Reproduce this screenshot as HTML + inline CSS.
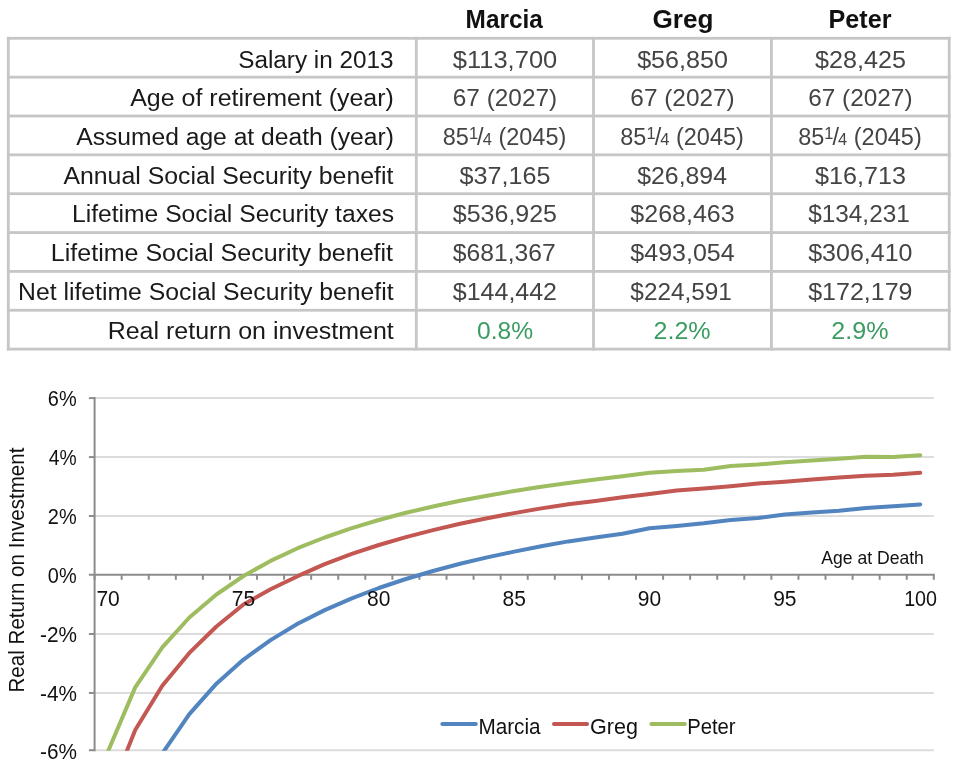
<!DOCTYPE html>
<html><head><meta charset="utf-8"><style>
html,body{margin:0;padding:0;background:#fff;}
body{width:960px;height:769px;position:relative;overflow:hidden;font-family:"Liberation Sans", sans-serif;}
</style></head><body>
<svg width="960" height="769" font-family='"Liberation Sans", sans-serif' style="position:absolute;left:0;top:0;will-change:transform">
<rect x="6.90" y="36.90" width="943.70" height="2.8" fill="#c6c6c6"/>
<rect x="6.90" y="75.75" width="943.70" height="2.8" fill="#c6c6c6"/>
<rect x="6.90" y="114.60" width="943.70" height="2.8" fill="#c6c6c6"/>
<rect x="6.90" y="153.45" width="943.70" height="2.8" fill="#c6c6c6"/>
<rect x="6.90" y="192.30" width="943.70" height="2.8" fill="#c6c6c6"/>
<rect x="6.90" y="231.15" width="943.70" height="2.8" fill="#c6c6c6"/>
<rect x="6.90" y="270.00" width="943.70" height="2.8" fill="#c6c6c6"/>
<rect x="6.90" y="308.85" width="943.70" height="2.8" fill="#c6c6c6"/>
<rect x="6.90" y="347.70" width="943.70" height="2.8" fill="#c6c6c6"/>
<rect x="6.90" y="36.90" width="2.8" height="313.60" fill="#c6c6c6"/>
<rect x="414.90" y="36.90" width="2.8" height="313.60" fill="#c6c6c6"/>
<rect x="592.10" y="36.90" width="2.8" height="313.60" fill="#c6c6c6"/>
<rect x="770.00" y="36.90" width="2.8" height="313.60" fill="#c6c6c6"/>
<rect x="947.80" y="36.90" width="2.8" height="313.60" fill="#c6c6c6"/>
<line x1="94.6" y1="398.1" x2="933.8" y2="398.1" stroke="#dcdcdc" stroke-width="2"/>
<line x1="88.9" y1="398.1" x2="94.6" y2="398.1" stroke="#8c8c8c" stroke-width="2"/>
<line x1="94.6" y1="457.1" x2="933.8" y2="457.1" stroke="#dcdcdc" stroke-width="2"/>
<line x1="88.9" y1="457.1" x2="94.6" y2="457.1" stroke="#8c8c8c" stroke-width="2"/>
<line x1="94.6" y1="516.0" x2="933.8" y2="516.0" stroke="#dcdcdc" stroke-width="2"/>
<line x1="88.9" y1="516.0" x2="94.6" y2="516.0" stroke="#8c8c8c" stroke-width="2"/>
<line x1="94.6" y1="634.0" x2="933.8" y2="634.0" stroke="#dcdcdc" stroke-width="2"/>
<line x1="88.9" y1="634.0" x2="94.6" y2="634.0" stroke="#8c8c8c" stroke-width="2"/>
<line x1="94.6" y1="692.9" x2="933.8" y2="692.9" stroke="#dcdcdc" stroke-width="2"/>
<line x1="88.9" y1="692.9" x2="94.6" y2="692.9" stroke="#8c8c8c" stroke-width="2"/>
<line x1="94.6" y1="750.2" x2="933.8" y2="750.2" stroke="#dcdcdc" stroke-width="2"/>
<line x1="88.9" y1="750.2" x2="94.6" y2="750.2" stroke="#8c8c8c" stroke-width="2"/>
<line x1="94.6" y1="397.1" x2="94.6" y2="751.2" stroke="#8c8c8c" stroke-width="2"/>
<line x1="88.9" y1="574.8" x2="934.8" y2="574.8" stroke="#8c8c8c" stroke-width="2"/>
<line x1="94.60" y1="574.8" x2="94.60" y2="579.8" stroke="#8c8c8c" stroke-width="2"/>
<line x1="121.67" y1="574.8" x2="121.67" y2="579.8" stroke="#8c8c8c" stroke-width="2"/>
<line x1="148.74" y1="574.8" x2="148.74" y2="579.8" stroke="#8c8c8c" stroke-width="2"/>
<line x1="175.81" y1="574.8" x2="175.81" y2="579.8" stroke="#8c8c8c" stroke-width="2"/>
<line x1="202.88" y1="574.8" x2="202.88" y2="579.8" stroke="#8c8c8c" stroke-width="2"/>
<line x1="229.95" y1="574.8" x2="229.95" y2="579.8" stroke="#8c8c8c" stroke-width="2"/>
<line x1="257.03" y1="574.8" x2="257.03" y2="579.8" stroke="#8c8c8c" stroke-width="2"/>
<line x1="284.10" y1="574.8" x2="284.10" y2="579.8" stroke="#8c8c8c" stroke-width="2"/>
<line x1="311.17" y1="574.8" x2="311.17" y2="579.8" stroke="#8c8c8c" stroke-width="2"/>
<line x1="338.24" y1="574.8" x2="338.24" y2="579.8" stroke="#8c8c8c" stroke-width="2"/>
<line x1="365.31" y1="574.8" x2="365.31" y2="579.8" stroke="#8c8c8c" stroke-width="2"/>
<line x1="392.38" y1="574.8" x2="392.38" y2="579.8" stroke="#8c8c8c" stroke-width="2"/>
<line x1="419.45" y1="574.8" x2="419.45" y2="579.8" stroke="#8c8c8c" stroke-width="2"/>
<line x1="446.52" y1="574.8" x2="446.52" y2="579.8" stroke="#8c8c8c" stroke-width="2"/>
<line x1="473.59" y1="574.8" x2="473.59" y2="579.8" stroke="#8c8c8c" stroke-width="2"/>
<line x1="500.66" y1="574.8" x2="500.66" y2="579.8" stroke="#8c8c8c" stroke-width="2"/>
<line x1="527.74" y1="574.8" x2="527.74" y2="579.8" stroke="#8c8c8c" stroke-width="2"/>
<line x1="554.81" y1="574.8" x2="554.81" y2="579.8" stroke="#8c8c8c" stroke-width="2"/>
<line x1="581.88" y1="574.8" x2="581.88" y2="579.8" stroke="#8c8c8c" stroke-width="2"/>
<line x1="608.95" y1="574.8" x2="608.95" y2="579.8" stroke="#8c8c8c" stroke-width="2"/>
<line x1="636.02" y1="574.8" x2="636.02" y2="579.8" stroke="#8c8c8c" stroke-width="2"/>
<line x1="663.09" y1="574.8" x2="663.09" y2="579.8" stroke="#8c8c8c" stroke-width="2"/>
<line x1="690.16" y1="574.8" x2="690.16" y2="579.8" stroke="#8c8c8c" stroke-width="2"/>
<line x1="717.23" y1="574.8" x2="717.23" y2="579.8" stroke="#8c8c8c" stroke-width="2"/>
<line x1="744.30" y1="574.8" x2="744.30" y2="579.8" stroke="#8c8c8c" stroke-width="2"/>
<line x1="771.37" y1="574.8" x2="771.37" y2="579.8" stroke="#8c8c8c" stroke-width="2"/>
<line x1="798.45" y1="574.8" x2="798.45" y2="579.8" stroke="#8c8c8c" stroke-width="2"/>
<line x1="825.52" y1="574.8" x2="825.52" y2="579.8" stroke="#8c8c8c" stroke-width="2"/>
<line x1="852.59" y1="574.8" x2="852.59" y2="579.8" stroke="#8c8c8c" stroke-width="2"/>
<line x1="879.66" y1="574.8" x2="879.66" y2="579.8" stroke="#8c8c8c" stroke-width="2"/>
<line x1="906.73" y1="574.8" x2="906.73" y2="579.8" stroke="#8c8c8c" stroke-width="2"/>
<line x1="933.80" y1="574.8" x2="933.80" y2="579.8" stroke="#8c8c8c" stroke-width="2"/>
<defs><clipPath id="pa"><rect x="94.6" y="380" width="849.1999999999999" height="370.70000000000005"/></clipPath></defs>
<g clip-path="url(#pa)" fill="none" stroke-width="4" stroke-linejoin="round" stroke-linecap="round">
<polyline points="108.14,900.00 135.21,820.00 162.28,753.50 189.35,714.20 216.42,683.70 243.49,659.60 270.56,640.10 297.63,623.80 324.70,610.10 351.77,598.30 378.85,588.00 405.92,579.00 432.99,571.00 460.06,563.80 487.13,557.40 514.20,551.60 541.27,546.20 568.34,541.40 595.41,537.40 622.48,533.80 649.55,528.20 676.63,525.90 703.70,523.30 730.77,520.00 757.84,518.00 784.91,514.50 811.98,512.50 839.05,510.80 866.12,508.00 893.19,506.30 920.26,504.50" stroke="#5285c0"/>
<polyline points="108.14,798.00 135.21,730.00 162.28,685.80 189.35,652.90 216.42,626.50 243.49,604.50 270.56,589.20 297.63,576.20 324.70,564.20 351.77,553.90 378.85,545.00 405.92,537.10 432.99,530.10 460.06,523.80 487.13,518.20 514.20,513.10 541.27,508.40 568.34,504.30 595.41,500.90 622.48,497.20 649.55,493.90 676.63,490.60 703.70,488.50 730.77,486.30 757.84,483.50 784.91,481.70 811.98,479.50 839.05,477.50 866.12,475.80 893.19,474.70 920.26,472.80" stroke="#c35752"/>
<polyline points="108.14,751.00 135.21,687.40 162.28,647.30 189.35,617.50 216.42,594.50 243.49,576.00 270.56,560.90 297.63,548.20 324.70,537.50 351.77,528.10 378.85,520.00 405.92,512.80 432.99,506.50 460.06,500.80 487.13,495.70 514.20,491.00 541.27,486.80 568.34,482.90 595.41,479.50 622.48,476.30 649.55,472.80 676.63,471.10 703.70,469.70 730.77,466.00 757.84,464.50 784.91,462.20 811.98,460.50 839.05,458.70 866.12,456.70 893.19,457.00 920.26,455.30" stroke="#9ebd60"/>
</g>
<line x1="442.3" y1="723.9" x2="475.8" y2="723.9" stroke="#5285c0" stroke-width="4" stroke-linecap="round"/>
<line x1="554.0" y1="723.9" x2="587.0" y2="723.9" stroke="#c35752" stroke-width="4" stroke-linecap="round"/>
<line x1="651.4" y1="723.9" x2="684.9" y2="723.9" stroke="#9ebd60" stroke-width="4" stroke-linecap="round"/>
<text x="0" y="0" font-size="25.58" font-weight="bold" fill="#111" transform="matrix(0.9532 0 0 1 465.59 28.30)">Marcia</text>
<text x="0" y="0" font-size="25.58" font-weight="bold" fill="#111" transform="matrix(1.0228 0 0 1 652.48 28.30)">Greg</text>
<text x="0" y="0" font-size="25.58" font-weight="bold" fill="#111" transform="matrix(0.9839 0 0 1 828.53 28.30)">Peter</text>
<text x="0" y="0" font-size="24.42" font-weight="normal" fill="#1a1a1a" transform="matrix(0.9961 0 0 1 238.20 67.65)">Salary in 2013</text>
<text x="0" y="0" font-size="24.71" font-weight="normal" fill="#444444" transform="matrix(1.0323 0 0 1 452.77 67.65)">$113,700</text>
<text x="0" y="0" font-size="24.71" font-weight="normal" fill="#444444" transform="matrix(1.0184 0 0 1 637.13 67.65)">$56,850</text>
<text x="0" y="0" font-size="24.71" font-weight="normal" fill="#444444" transform="matrix(1.0184 0 0 1 814.98 67.65)">$28,425</text>
<text x="0" y="0" font-size="24.42" font-weight="normal" fill="#1a1a1a" transform="matrix(1.0234 0 0 1 130.20 106.36)">Age of retirement (year)</text>
<text x="0" y="0" font-size="24.71" font-weight="normal" fill="#444444" transform="matrix(0.9864 0 0 1 452.81 106.36)">67 (2027)</text>
<text x="0" y="0" font-size="24.71" font-weight="normal" fill="#444444" transform="matrix(0.9864 0 0 1 630.36 106.36)">67 (2027)</text>
<text x="0" y="0" font-size="24.71" font-weight="normal" fill="#444444" transform="matrix(0.9864 0 0 1 808.21 106.36)">67 (2027)</text>
<text x="0" y="0" font-size="24.42" font-weight="normal" fill="#1a1a1a" transform="matrix(1.0096 0 0 1 76.20 145.06)">Assumed age at death (year)</text>
<text x="0" y="0" font-size="24.71" font-weight="normal" fill="#444444" transform="matrix(0.9516 0 0 1 442.75 145.06)">85<tspan font-size="70%" dy="-5.8">1</tspan><tspan dy="5.8" dx="-1.0">/</tspan><tspan font-size="70%" dx="-1.0">4</tspan> (2045)</text>
<text x="0" y="0" font-size="24.71" font-weight="normal" fill="#444444" transform="matrix(0.9516 0 0 1 620.30 145.06)">85<tspan font-size="70%" dy="-5.8">1</tspan><tspan dy="5.8" dx="-1.0">/</tspan><tspan font-size="70%" dx="-1.0">4</tspan> (2045)</text>
<text x="0" y="0" font-size="24.71" font-weight="normal" fill="#444444" transform="matrix(0.9516 0 0 1 798.15 145.06)">85<tspan font-size="70%" dy="-5.8">1</tspan><tspan dy="5.8" dx="-1.0">/</tspan><tspan font-size="70%" dx="-1.0">4</tspan> (2045)</text>
<text x="0" y="0" font-size="24.42" font-weight="normal" fill="#1a1a1a" transform="matrix(1.0173 0 0 1 63.40 183.77)">Annual Social Security benefit</text>
<text x="0" y="0" font-size="24.71" font-weight="normal" fill="#444444" transform="matrix(1.0184 0 0 1 459.58 183.77)">$37,165</text>
<text x="0" y="0" font-size="24.71" font-weight="normal" fill="#444444" transform="matrix(1.0068 0 0 1 637.14 183.77)">$26,894</text>
<text x="0" y="0" font-size="24.71" font-weight="normal" fill="#444444" transform="matrix(1.0184 0 0 1 814.98 183.77)">$16,713</text>
<text x="0" y="0" font-size="24.42" font-weight="normal" fill="#1a1a1a" transform="matrix(1.0104 0 0 1 71.98 222.48)">Lifetime Social Security taxes</text>
<text x="0" y="0" font-size="24.71" font-weight="normal" fill="#444444" transform="matrix(1.0119 0 0 1 452.79 222.48)">$536,925</text>
<text x="0" y="0" font-size="24.71" font-weight="normal" fill="#444444" transform="matrix(1.0119 0 0 1 630.34 222.48)">$268,463</text>
<text x="0" y="0" font-size="24.71" font-weight="normal" fill="#444444" transform="matrix(0.9861 0 0 1 808.21 222.48)">$134,231</text>
<text x="0" y="0" font-size="24.42" font-weight="normal" fill="#1a1a1a" transform="matrix(1.0253 0 0 1 50.85 261.19)">Lifetime Social Security benefit</text>
<text x="0" y="0" font-size="24.71" font-weight="normal" fill="#444444" transform="matrix(0.9980 0 0 1 452.80 261.19)">$681,367</text>
<text x="0" y="0" font-size="24.71" font-weight="normal" fill="#444444" transform="matrix(1.0119 0 0 1 630.34 261.19)">$493,054</text>
<text x="0" y="0" font-size="24.71" font-weight="normal" fill="#444444" transform="matrix(1.0119 0 0 1 808.19 261.19)">$306,410</text>
<text x="0" y="0" font-size="24.42" font-weight="normal" fill="#1a1a1a" transform="matrix(1.0141 0 0 1 18.07 299.89)">Net lifetime Social Security benefit</text>
<text x="0" y="0" font-size="24.71" font-weight="normal" fill="#444444" transform="matrix(1.0119 0 0 1 452.79 299.89)">$144,442</text>
<text x="0" y="0" font-size="24.71" font-weight="normal" fill="#444444" transform="matrix(0.9861 0 0 1 630.36 299.89)">$224,591</text>
<text x="0" y="0" font-size="24.71" font-weight="normal" fill="#444444" transform="matrix(1.0119 0 0 1 808.19 299.89)">$172,179</text>
<text x="0" y="0" font-size="24.42" font-weight="normal" fill="#1a1a1a" transform="matrix(1.0238 0 0 1 107.65 338.60)">Real return on investment</text>
<text x="0" y="0" font-size="24.71" font-weight="normal" fill="#3a9c60" transform="matrix(0.9963 0 0 1 477.00 338.60)">0.8%</text>
<text x="0" y="0" font-size="24.71" font-weight="normal" fill="#3a9c60" transform="matrix(1.0151 0 0 1 653.52 338.60)">2.2%</text>
<text x="0" y="0" font-size="24.71" font-weight="normal" fill="#3a9c60" transform="matrix(1.0151 0 0 1 831.37 338.60)">2.9%</text>
<text x="0" y="0" font-size="22.38" font-weight="normal" fill="#111" transform="matrix(0.8903 0 0 1 47.81 405.90)">6%</text>
<text x="0" y="0" font-size="22.38" font-weight="normal" fill="#111" transform="matrix(0.8625 0 0 1 48.70 464.90)">4%</text>
<text x="0" y="0" font-size="22.38" font-weight="normal" fill="#111" transform="matrix(0.8903 0 0 1 47.81 523.80)">2%</text>
<text x="0" y="0" font-size="22.38" font-weight="normal" fill="#111" transform="matrix(0.8903 0 0 1 47.81 582.60)">0%</text>
<text x="0" y="0" font-size="22.38" font-weight="normal" fill="#111" transform="matrix(0.9289 0 0 1 40.07 641.80)">-2%</text>
<text x="0" y="0" font-size="22.38" font-weight="normal" fill="#111" transform="matrix(0.9289 0 0 1 40.07 700.70)">-4%</text>
<text x="0" y="0" font-size="22.38" font-weight="normal" fill="#111" transform="matrix(0.9289 0 0 1 40.07 759.00)">-6%</text>
<text x="0" y="0" font-size="22.38" font-weight="normal" fill="#111" transform="matrix(0.9391 0 0 1 96.40 605.80)">70</text>
<text x="0" y="0" font-size="22.38" font-weight="normal" fill="#111" transform="matrix(0.9391 0 0 1 231.75 605.80)">75</text>
<text x="0" y="0" font-size="22.38" font-weight="normal" fill="#111" transform="matrix(0.9391 0 0 1 367.11 605.80)">80</text>
<text x="0" y="0" font-size="22.38" font-weight="normal" fill="#111" transform="matrix(0.9391 0 0 1 502.46 605.80)">85</text>
<text x="0" y="0" font-size="22.38" font-weight="normal" fill="#111" transform="matrix(0.9391 0 0 1 637.82 605.80)">90</text>
<text x="0" y="0" font-size="22.38" font-weight="normal" fill="#111" transform="matrix(0.9391 0 0 1 773.17 605.80)">95</text>
<text x="0" y="0" font-size="22.38" font-weight="normal" fill="#111" transform="matrix(0.8829 0 0 1 904.13 605.80)">100</text>
<text x="0" y="0" font-size="17.44" font-weight="normal" fill="#111" transform="matrix(1.0084 0 0 1 821.25 564.00)">Age at Death</text>
<text x="0" y="0" font-size="22.09" font-weight="normal" fill="#111" transform="matrix(0.9391 0 0 1 478.42 734.30)">Marcia</text>
<text x="0" y="0" font-size="22.09" font-weight="normal" fill="#111" transform="matrix(0.9766 0 0 1 590.02 734.30)">Greg</text>
<text x="0" y="0" font-size="22.09" font-weight="normal" fill="#111" transform="matrix(0.9176 0 0 1 687.16 734.30)">Peter</text>
<g transform="translate(23.80 690.70) rotate(-90)"><text x="0" y="0" font-size="21.80" font-weight="normal" fill="#111" transform="matrix(0.9459 0 0 1 -1.89 0)">Real Return on Investment</text></g>
</svg>
</body></html>
